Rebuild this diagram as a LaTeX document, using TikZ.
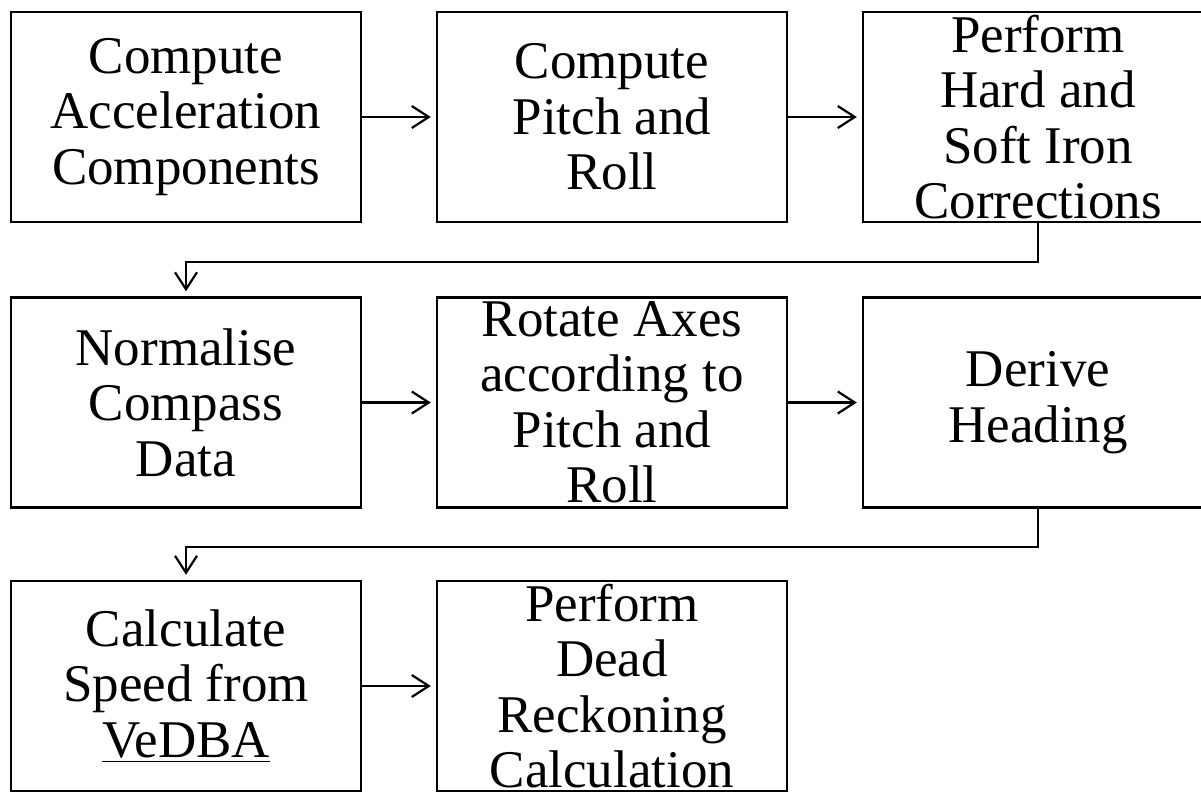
\documentclass[tikz,border=0pt]{standalone}
\usepackage{fontspec}
\setmainfont{Liberation Serif}
\usetikzlibrary{arrows.meta}
\begin{document}
\begin{tikzpicture}[x=0.5pt, y=-0.5pt,
  blk/.style={draw, line width=1.2pt, minimum width=175pt, minimum height=105pt,
    inner sep=0pt, align=center, font=\fontsize{26.5}{27.75}\selectfont},
  flow/.style={line width=1.1pt, -{Straight Barb[length=8.5pt, width=11pt, line width=1.1pt]}, shorten >=2.5pt}]
\clip (0,0) rectangle (1201,793);
\node[blk] (blk1) at (186,117){Compute\\Acceleration\\Components};
\node[blk] (blk2) at (612,117){Compute\\Pitch and\\Roll};
\node[blk] (blk3) at (1038,117){Perform\\Hard and\\Soft Iron\\Corrections};
\draw[flow] (blk1) -- (blk2);
\draw[flow] (blk2) -- (blk3);
\node[blk] (blk4) at (186,402.5){Normalise\\Compass\\Data};
\node[blk] (blk5) at (612,402.5){Rotate Axes\\according to\\Pitch and\\Roll};
\node[blk] (blk6) at (1038,402.5){Derive\\Heading};
\draw[flow] (blk3.south) -- ++(0,39) -| (blk4.north);
\draw[flow] (blk4) -- (blk5);
\draw[flow] (blk5) -- (blk6);
\node[blk] (blk7) at (186,686){Calculate\\Speed from\\\underline{VeDBA}};
\node[blk] (blk8) at (612,686){Perform\\Dead\\Reckoning\\Calculation};
\draw[flow] (blk6.south) -- ++(0,38) -| (blk7.north);
\draw[flow] (blk7) -- (blk8);
\end{tikzpicture}
\end{document}
